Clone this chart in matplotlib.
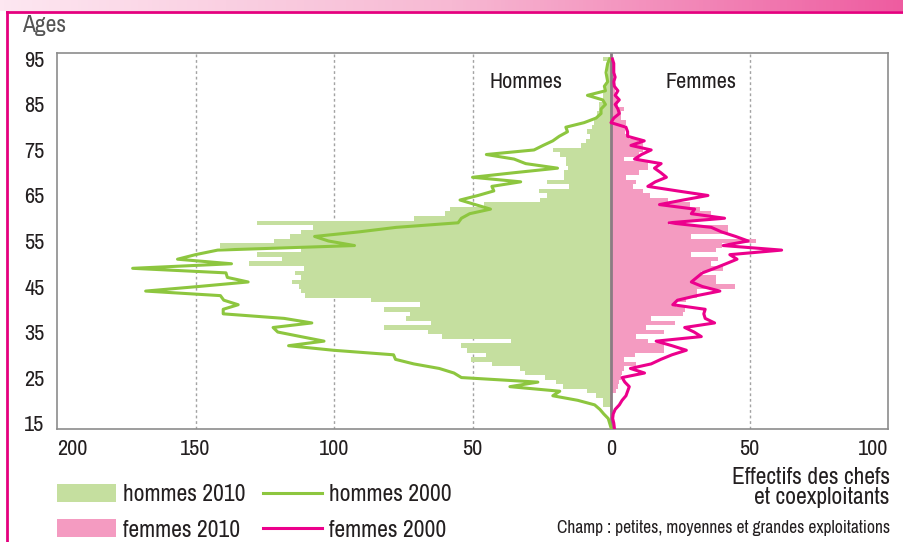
import numpy as np
import matplotlib
matplotlib.use('Agg')
import matplotlib.pyplot as plt
from matplotlib.colors import LinearSegmentedColormap
from matplotlib.lines import Line2D
from matplotlib.patches import Patch

plt.rcParams['font.family'] = ['Archivo Narrow', 'Liberation Sans', 'DejaVu Sans']

# ages 14 .. 95
ages = list(range(14, 96))

hommes_2010 = [0, 0, 0, 0, 0.5, 3, 3, 5.4, 8.7, 17.5,
               20, 24, 31, 33, 43, 50.7, 45, 52, 54, 36,
               61, 66, 82, 65, 74, 72.5, 82, 69, 86.8, 110.5,
               112, 112.8, 115, 112, 114, 110.8, 130.7, 118.7, 127.7, 112,
               141, 121.6, 116, 112, 107.5, 127.7, 71, 60, 58, 46,
               25.7, 23, 26, 15, 23, 17, 17, 15.7, 16.3, 16.3,
               18.4, 20.8, 11, 9, 7.5, 8.5, 7, 6, 5.5, 5,
               4.5, 4.5, 3, 3, 2.5, 2, 1.5, 1.5, 1, 1,
               1, 3]

femmes_2010 = [0, 0, 0, 0, 0, 0, 0, 0, 1.8, 2.4,
               3, 3.6, 4, 4.8, 9.1, 4.8, 8.5, 19.3, 19.3, 13.3,
               9.1, 19.3, 12.7, 23, 14.5, 26, 26.6, 23.6, 27, 31,
               31, 44.7, 38, 38, 32.6, 40.5, 36, 38.6, 29, 38,
               40, 52.5, 29, 42.3, 42.3, 21, 36, 36.2, 32, 28.4,
               20.5, 13.9, 11.5, 7.9, 9, 5.4, 10, 13.3, 13.3, 4.8,
               10, 11.5, 11.5, 9.7, 6.6, 5, 5, 5.4, 3.6, 3.6,
               4.8, 2.5, 2, 2, 1.5, 1.5, 1, 1, 0.5, 0.5,
               0, 0]

hommes_2000 = [0, 0.5, 1, 2.6, 4, 5.9, 12, 21, 18.5, 36.5,
               26.4, 54, 56.7, 62, 71.2, 77.8, 78.5, 100.3, 116.4, 103.6,
               112, 120.3, 122, 108, 118, 140, 140, 134.6, 139.8, 141,
               168, 149, 131, 138.5, 139, 172.7, 137, 156.5, 150, 142,
               92.6, 102, 107, 91, 77.5, 55.2, 54, 51, 43.5, 49,
               54.5, 48, 42.3, 43, 32.6, 50, 35, 19.3, 30.8, 35,
               45, 27.8, 24.5, 21, 18.7, 15.7, 16.3, 9.7, 5.4, 3.6,
               3.6, 2, 3, 8.5, 2, 2.4, 1.2, 1.5, 1.8, 1.5,
               1.2, 0.5]

femmes_2000 = [1.2, 1, 0.6, 0.8, 1.5, 3, 4, 5.4, 6, 6.6,
               5, 4, 12.1, 7, 14.5, 18, 22, 27.2, 22, 16.3,
               32.6, 30, 26.6, 37.4, 34, 33.5, 34, 22.3, 24, 31,
               39.3, 33, 29, 31, 33, 37.4, 41.5, 45.5, 42.9, 61.6,
               40.5, 49.5, 45, 39.9, 36.2, 21, 41, 29, 30.2, 17.5,
               26, 35, 24, 13.3, 16, 20, 18, 15.7, 18.1, 8.5,
               11, 14.5, 7.2, 12, 6, 6, 5.4, 0, 1, 3,
               2.5, 1.5, 3, 1.5, 2.5, 1.2, 1, 1.5, 1, 1,
               1, 0.5]

x_ticks = [-200, -150, -100, -50, 0, 50, 100]
x_labels = ['200', '150', '100', '50', '0', '50', '100']
y_ticks = [15, 25, 35, 45, 55, 65, 75, 85, 95]

GREEN_BAR = '#c5df9f'
PINK_BAR = '#f49bc1'
GREEN_LINE = '#8dc63f'
PINK_LINE = '#ec008c'
TEXT = '#231f20'
W, H = 904, 542

fig = plt.figure(figsize=(W / 100, H / 100), dpi=100)

# top gradient band and magenta frame
band = fig.add_axes([0, 1 - 11 / H, 1, 11 / H])
cmap = LinearSegmentedColormap.from_list('band', ['#fde7f1', '#f7b9d3', '#ee5ca0'])
band.imshow(np.linspace(0, 1, 256).reshape(1, -1), aspect='auto', cmap=cmap)
band.axis('off')
fig.add_artist(Line2D([7 / W, 1], [1 - 12 / H] * 2, color='#e5007e', lw=2))
fig.add_artist(Line2D([7 / W] * 2, [0, 1 - 12 / H], color='#e5007e', lw=2))

ax = fig.add_axes([57 / W, 1 - 429 / H, (888 - 57) / W, (429 - 53) / H])

for gx in [-150, -100, -50, 50]:
    ax.axvline(gx, color='#a3a3a3', lw=1, ls=(0, (2, 2)), zorder=0)

ax.barh(ages, [-v for v in hommes_2010], height=1.0, color=GREEN_BAR, lw=0, zorder=1)
ax.barh(ages, femmes_2010, height=1.0, color=PINK_BAR, lw=0, zorder=1)
ax.axvline(0, color='#8a7c83', lw=2, zorder=2)
ax.plot([-v for v in hommes_2000], ages, color=GREEN_LINE, lw=2.2, zorder=3)
ax.plot(femmes_2000, ages, color=PINK_LINE, lw=2.2, zorder=3)

ax.set_xlim(-200, 100)
ax.set_ylim(13.7, 96.3)
ax.set_xticks(x_ticks)
ax.set_xticklabels(x_labels)
ax.set_yticks(y_ticks)
ax.tick_params(axis='both', length=0, labelsize=16, colors=TEXT)
ax.tick_params(axis='x', pad=7)
ax.tick_params(axis='y', pad=9)
xl = ax.get_xticklabels()
xl[0].set_ha('left')
xl[-1].set_ha('right')
for s in ax.spines.values():
    s.set_color('#8c8c8c')
    s.set_linewidth(1.2)

fig.text(526 / W, 1 - 82 / H, 'Hommes', ha='center', va='center', fontsize=16, color=TEXT)
fig.text(701 / W, 1 - 82 / H, 'Femmes', ha='center', va='center', fontsize=16, color=TEXT)
fig.text(22 / W, 1 - 25 / H, 'Ages', ha='left', va='center', fontsize=17, color='#555555')
fig.text(890 / W, 1 - 477 / H, 'Effectifs des chefs', ha='right', va='center', fontsize=17, color=TEXT)
fig.text(890 / W, 1 - 498 / H, 'et coexploitants', ha='right', va='center', fontsize=17, color=TEXT)
fig.text(890 / W, 1 - 528 / H, 'Champ : petites, moyennes et grandes exploitations',
         ha='right', va='center', fontsize=12.6, color=TEXT)

handles = [Patch(facecolor=GREEN_BAR, lw=0), Patch(facecolor=PINK_BAR, lw=0),
           Line2D([], [], color=GREEN_LINE, lw=2.2), Line2D([], [], color=PINK_LINE, lw=2.2)]
labels = ['hommes 2010', 'femmes 2010', 'hommes 2000', 'femmes 2000']
fig.legend(handles, labels, ncol=2, loc='upper left', bbox_to_anchor=(57 / W, 1 - 484 / H),
           frameon=False, fontsize=17, handlelength=2.5, handleheight=0.8,
           handletextpad=0.3, columnspacing=0.75, labelspacing=0.6,
           borderpad=0, borderaxespad=0, labelcolor=TEXT)

fig.savefig('out.png', dpi=100)
